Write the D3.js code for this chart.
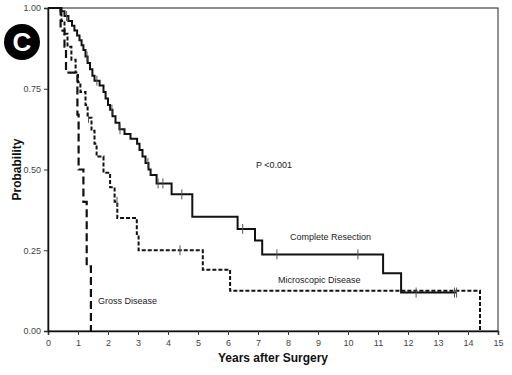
<!DOCTYPE html>
<html><head><meta charset="utf-8">
<script src="https://cdn.jsdelivr.net/npm/d3@7/dist/d3.min.js"></script>
<style>body{margin:0;background:#fff}svg{display:block}</style>
</head><body><svg id="c" width="512" height="375"></svg>
<script>
// Kaplan-Meier step data (time in years, survival probability after event)
const completeTimes = [0.42,0.55,0.68,0.80,0.88,0.97,1.05,1.12,1.18,1.25,1.32,1.40,1.48,1.55,1.72,1.85,1.92,2.00,2.07,2.15,2.25,2.38,2.55,2.75,2.97,3.05,3.15,3.25,3.35,3.42,3.62,4.12,4.81,6.32,6.90,7.14,11.17,11.77];
const completeSurv  = [0.99,0.975,0.96,0.945,0.93,0.915,0.90,0.885,0.87,0.85,0.83,0.81,0.79,0.775,0.76,0.74,0.72,0.70,0.685,0.665,0.645,0.625,0.61,0.595,0.58,0.56,0.54,0.52,0.50,0.483,0.457,0.423,0.354,0.316,0.28,0.237,0.179,0.119];
const completeEnd = 13.62;
const completeCensor = [0.62,1.30,1.63,2.13,2.40,3.33,3.67,3.83,4.46,6.49,7.63,10.33,12.27,13.55,13.62];

const microTimes = [0.45,0.55,0.65,0.78,0.92,1.00,1.08,1.25,1.32,1.45,1.55,1.62,1.85,2.07,2.22,2.31,2.96,3.02,5.16,6.07,14.4];
const microSurv  = [0.96,0.92,0.88,0.84,0.80,0.77,0.74,0.70,0.66,0.62,0.58,0.54,0.49,0.445,0.40,0.35,0.30,0.25,0.19,0.125,0.0];
const microEnd = 14.4;
const microCensor = [1.35,2.30,4.40];

const grossTimes = [0.42,0.55,0.60,0.98,1.02,1.18,1.29,1.43];
const grossSurv  = [0.93,0.88,0.80,0.67,0.50,0.40,0.20,0.0];
const grossEnd = 1.43;

const xTicks = [0,1,2,3,4,5,6,7,8,9,10,11,12,13,14,15];
const yTicks = [0,0.25,0.5,0.75,1.0];
const yTickLabels = ["0.00","0.25","0.50","0.75","1.00"];

const svg = d3.select("#c");
const x = d3.scaleLinear().domain([0,15]).range([48,498]);
const y = d3.scaleLinear().domain([0,1]).range([331,8]);

function pts(times, surv, end){
  const p = [[0,1]];
  times.forEach((t,i)=>p.push([t,surv[i]]));
  p.push([end, surv[surv.length-1]]);
  return p;
}
function survAt(times, surv, t){
  let s = 1;
  times.forEach((tt,i)=>{ if (tt<=t) s = surv[i]; });
  return s;
}
const line = d3.line().x(d=>x(d[0])).y(d=>y(d[1])).curve(d3.curveStepAfter);

// frame
svg.append("rect").attr("x",x(0)).attr("y",y(1)).attr("width",x(15)-x(0)).attr("height",y(0)-y(1))
  .attr("fill","none").attr("stroke","#222").attr("stroke-width",1);

// axes
const xAxis = svg.append("g").attr("transform",`translate(0,${y(0)})`)
  .call(d3.axisBottom(x).tickValues(xTicks).tickSize(4).tickFormat(d3.format("d")));
const yAxis = svg.append("g").attr("transform",`translate(${x(0)},0)`)
  .call(d3.axisLeft(y).tickValues(yTicks).tickSize(4).tickFormat((d,i)=>yTickLabels[i]));
[xAxis,yAxis].forEach(g=>{
  g.select(".domain").attr("stroke","#111").attr("stroke-width",1.5);
  g.selectAll(".tick line").attr("stroke","#333");
  g.selectAll("text").attr("font-family","Liberation Sans, Arial, sans-serif").attr("font-size",9).attr("fill","#444");
});
xAxis.selectAll("text").attr("dy","0.9em");

// curves
svg.append("path").attr("d",line(pts(grossTimes,grossSurv,grossEnd)))
  .attr("fill","none").attr("stroke","#111").attr("stroke-width",2.2).attr("stroke-dasharray","8,4");
svg.append("path").attr("d",line(pts(microTimes,microSurv,microEnd)))
  .attr("fill","none").attr("stroke","#111").attr("stroke-width",2).attr("stroke-dasharray","4,2");
svg.append("path").attr("d",line(pts(completeTimes,completeSurv,completeEnd)))
  .attr("fill","none").attr("stroke","#111").attr("stroke-width",2);

// censor ticks
function censor(ts, times, surv){
  svg.append("g").selectAll("line").data(ts).join("line")
    .attr("x1",d=>x(d)).attr("x2",d=>x(d))
    .attr("y1",d=>y(survAt(times,surv,d))-5).attr("y2",d=>y(survAt(times,surv,d))+5)
    .attr("stroke","#555").attr("stroke-width",1);
}
censor(completeCensor, completeTimes, completeSurv);
censor(microCensor, microTimes, microSurv);

// labels
const font = "Liberation Sans, Arial, sans-serif";
function txt(t,xx,yy,opts={}){
  return svg.append("text").attr("x",xx).attr("y",yy).text(t)
    .attr("font-family",font).attr("font-size",opts.size||9).attr("fill",opts.fill||"#222")
    .attr("font-weight",opts.weight||"normal").attr("text-anchor",opts.anchor||"start");
}
txt("P <0.001",256,168);
txt("Complete Resection",290,240);
txt("Microscopic Disease",278,283);
txt("Gross Disease",98,304);
txt("Years after Surgery",(x(0)+x(15))/2,362,{size:12,weight:"bold",anchor:"middle",fill:"#111"});
svg.append("text").attr("transform",`translate(21,${(y(0)+y(1))/2}) rotate(-90)`)
  .attr("text-anchor","middle").attr("font-family",font).attr("font-size",12).attr("font-weight","bold")
  .attr("fill","#111").text("Probability");

// panel badge
svg.append("circle").attr("cx",22).attr("cy",42).attr("r",18).attr("fill","#000");
svg.append("text").attr("x",22).attr("y",51).attr("text-anchor","middle").attr("font-family",font)
  .attr("font-weight","bold").attr("font-size",26).attr("fill","#fff").text("C");
</script></body></html>
